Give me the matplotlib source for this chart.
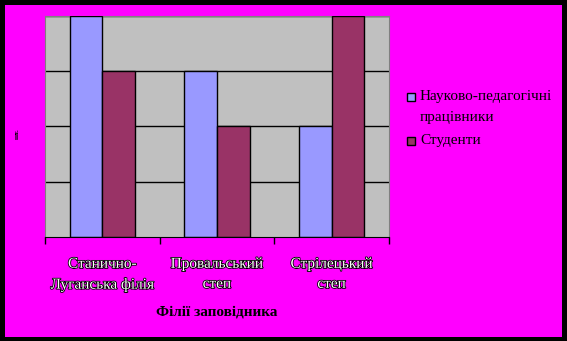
import numpy as np
import matplotlib
matplotlib.use("Agg")
import matplotlib.pyplot as plt
import matplotlib.patheffects as pe
from matplotlib.patches import Rectangle

categories = ["Станично-\nЛуганська філія", "Провальський\nстеп", "Стрілецький\nстеп"]
series_names = ["Науково-педагогічні\nпрацівники", "Студенти"]
staff = [4, 3, 2]
students = [3, 2, 4]
colors = ["#9999FF", "#993366"]

serif = ["Liberation Serif", "DejaVu Serif"]
plt.rcParams['font.family'] = serif

fig = plt.figure(figsize=(5.67, 3.41), dpi=100, facecolor="black")
# magenta inner panel (behind the axes)
fig.patches.append(Rectangle((5/567, 4/341), 557/567, 332/341, transform=fig.transFigure,
                             facecolor="#FF00FF", edgecolor="none", zorder=-10))

ax = fig.add_axes([45/567, 1-237/341, 344/567, 221.5/341])
ax.set_facecolor("#C0C0C0")

x = np.arange(len(categories))
w = 1 / 3.5
ax.bar(x - w/2, staff, w, color=colors[0], edgecolor="black", linewidth=1, zorder=3)
ax.bar(x + w/2, students, w, color=colors[1], edgecolor="black", linewidth=1, zorder=3)

ax.set_xlim(-0.5, len(categories) - 0.5)
ax.set_ylim(0, 4)
ax.set_yticks([1, 2, 3, 4])
ax.yaxis.grid(True, color="black", linewidth=1)
ax.set_axisbelow(True)
ax.tick_params(axis="y", left=False, labelleft=False)

ax.set_xticks(x)
ax.set_xticklabels(categories, color="white", fontsize=11, linespacing=1.7, family=serif)
ax.set_xticks(np.arange(-0.5, len(categories)), minor=True)
ax.tick_params(axis="x", which="major", length=0, pad=15)
ax.tick_params(axis="x", which="minor", length=5, width=1, color="black", direction="out")
for t in ax.get_xticklabels():
    t.set_path_effects([pe.withStroke(linewidth=1.2, foreground="black")])

for s in ["left", "right", "top"]:
    ax.spines[s].set_color("#808080")
ax.spines["bottom"].set_color("black")
ax.spines["bottom"].set_zorder(4)

fig.text(217/567, 1-312/341, "Філії заповідника", ha="center", va="center",
         fontsize=11, fontweight="bold", color="black", family=serif)
fig.text(17/567, 1-134/341, "шт.", rotation=90, ha="center", va="center",
         fontsize=5, fontweight="bold", color="black", family=serif)

# legend: square aligned with the first line of each entry
legend_y = [97, 141]
for name, col, yy in zip(series_names, colors, legend_y):
    fig.patches.append(Rectangle((407/567, 1-(yy+4)/341), 8/567, 8/341, transform=fig.transFigure,
                                 facecolor=col, edgecolor="black", linewidth=1))
    fig.text(420/567, 1-(yy-7)/341, name, ha="left", va="top", fontsize=11,
             linespacing=1.85, color="black", family=serif)

fig.savefig("out.png", dpi=100, facecolor="black")
